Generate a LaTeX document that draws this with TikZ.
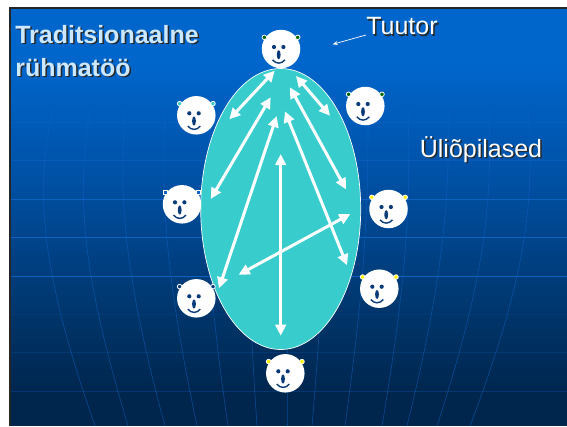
\documentclass[tikz,border=0pt]{standalone}
\usepackage{fontspec}
\setmainfont{Liberation Sans}
\usepackage{tikz}
\usetikzlibrary{arrows.meta,positioning,shapes.geometric}

\definecolor{bgtop}{RGB}{0,102,204}
\definecolor{bgmid}{RGB}{0,82,168}
\definecolor{bglow}{RGB}{0,52,104}
\definecolor{bgend}{RGB}{0,38,78}
\definecolor{gridblue}{RGB}{16,100,200}
\definecolor{groupfill}{RGB}{56,204,204}
\definecolor{facedark}{RGB}{10,58,120}
\definecolor{headtext}{RGB}{204,232,255}

\newcommand{\shadowtext}[1]{\leavevmode\rlap{\kern1.5pt\raisebox{-1.5pt}{\textcolor{black!85}{#1}}}#1}

% one face: name, position, ear style
\newcommand{\facenode}[3]{
	\node[head]	(#1) at (#2) {};
	\node[#3]	(#1 earl) at ([shift={(-16.7,-11.7)}]#1.center) {};
	\node[#3]	(#1 earr) at ([shift={(16.7,-11.7)}]#1.center) {};
	\fill[facedark] ([shift={(-7,-2)}]#1.center) circle (2.1);
	\fill[facedark] ([shift={(2.4,-2)}]#1.center) circle (2.1);
	\fill[facedark] ([shift={(-2.3,5.7)}]#1.center) ellipse (1.9 and 4.6);
	\draw[facedark,line width=1.4pt] ([shift={(-8.5,10.8)}]#1.center) .. controls ([shift={(-5,15.2)}]#1.center) and ([shift={(0.5,15.2)}]#1.center) .. ([shift={(4,10.8)}]#1.center);
}

\begin{document}
\begin{tikzpicture}[x=1pt,y=-1pt,semithick]
	\tikzstyle{head}=[circle,fill=white,minimum size=38.5pt,inner sep=0pt]
	\tikzstyle{ear}=[circle,draw=white,line width=0.8pt,minimum size=4.6pt,inner sep=0pt]
	\tikzstyle{earsq}=[ear,rectangle,minimum size=4pt,fill=gridblue]
	\tikzstyle{eargreen}=[ear,fill=green!40!black]
	\tikzstyle{earcyan}=[ear,fill=groupfill]
	\tikzstyle{earyellow}=[ear,fill=yellow]
	\tikzstyle{eardark}=[ear,fill=facedark]
	\tikzstyle{link}=[white,line width=3pt,{Triangle[length=11pt,width=10.5pt]}-{Triangle[length=11pt,width=10.5pt]}]
	\tikzstyle{gridline}=[gridblue,line width=0.6pt]
	\tikzstyle{heading}=[text=headtext,font=\bfseries\fontsize{25}{33}\selectfont,align=left,anchor=north west,inner sep=0pt]
	\tikzstyle{label}=[text=white,font=\fontsize{25}{28}\selectfont,inner sep=0pt]

	\useasboundingbox (0,0) rectangle (567,426);

	% slide background
	\fill[white] (0,0) rectangle (567,426);
	\fill[black!85] (9,7) rectangle (567,426);
	\fill[bgtop] (11,9) rectangle (567,60);
	\shade[top color=bgtop,bottom color=bgmid] (11,60) rectangle (567,170);
	\shade[top color=bgmid,bottom color=bglow] (11,170) rectangle (567,320);
	\shade[top color=bglow,bottom color=bgend] (11,320) rectangle (567,392);
	\fill[bgend] (11,392) rectangle (567,426);

	% grid of the slide
	\begin{scope}
		\clip (11,9) rectangle (567,426);
		\foreach \y/\o in {122.7/0.35,160.7/0.5,199.3/0.9,237.7/0.9,276/0.9,314/0.12,352/0.2,391.7/0.3}
			\draw[gridline,opacity=\o] (11,\y) -- (567,\y);
		\foreach \a/\b/\c in {52/37/95,90/78/128,125/120/165,165/162/197,212/204/228,252/246/257,287/287/287,322/326/312,368/368/345,408/410/382,449/448/407,489/491/437,528/533/470}
			\draw[gridline,opacity=0.55] (\a,110) .. controls (\b,190) and (\b,260) .. (\c,426);
	\end{scope}

	\node[ellipse,fill=groupfill,draw=white,line width=0.7pt,minimum width=160pt,minimum height=281pt,inner sep=0pt] (group) at (280.7,209) {};

	\facenode{tutor}{281,49}{eargreen}
	\facenode{leftup}{196.3,115.3}{earcyan}
	\facenode{rightup}{365.3,106}{eargreen}
	\facenode{leftmid}{182,204.3}{earsq}
	\facenode{rightmid}{388.5,209}{earyellow}
	\facenode{leftlow}{196.3,298.3}{eardark}
	\facenode{rightlow}{379.3,288.7}{earyellow}
	\facenode{bottom}{285.3,373.3}{earyellow}

	\coordinate (a1) at (274.7,70.7);	\coordinate (b1) at (229.3,119.3);
	\coordinate (a2) at (270.7,97.3);	\coordinate (b2) at (210.7,199);
	\coordinate (a3) at (276.7,116);	\coordinate (b3) at (219,288.3);
	\coordinate (a4) at (280.7,154);	\coordinate (b4) at (280.7,335.7);
	\coordinate (a5) at (290,87.3);		\coordinate (b5) at (346,189.3);
	\coordinate (a6) at (296,76);		\coordinate (b6) at (330,115.7);
	\coordinate (a7) at (285,111.3);	\coordinate (b7) at (347,265.3);
	\coordinate (a8) at (350.3,214);	\coordinate (b8) at (238.7,274.7);

	\foreach \i in {1,...,8}
		\draw[link] (a\i) -- (b\i);

	\node[heading] (title) at (15,25) {\shadowtext{Traditsionaalne}\\\shadowtext{rühmatöö}};
	\node[label] (tuutor) at (402,27) {\shadowtext{Tuutor}};
	\node[label] (students) at (481,150) {\shadowtext{Üliõpilased}};

	\coordinate (tutorend) at (332.7,44.3);
	\coordinate (tutorstart) at (366,35);
	\draw[white,line width=0.7pt,-{Stealth[length=5pt,width=4pt]}] (tutorstart) -- (tutorend);
\end{tikzpicture}
\end{document}
